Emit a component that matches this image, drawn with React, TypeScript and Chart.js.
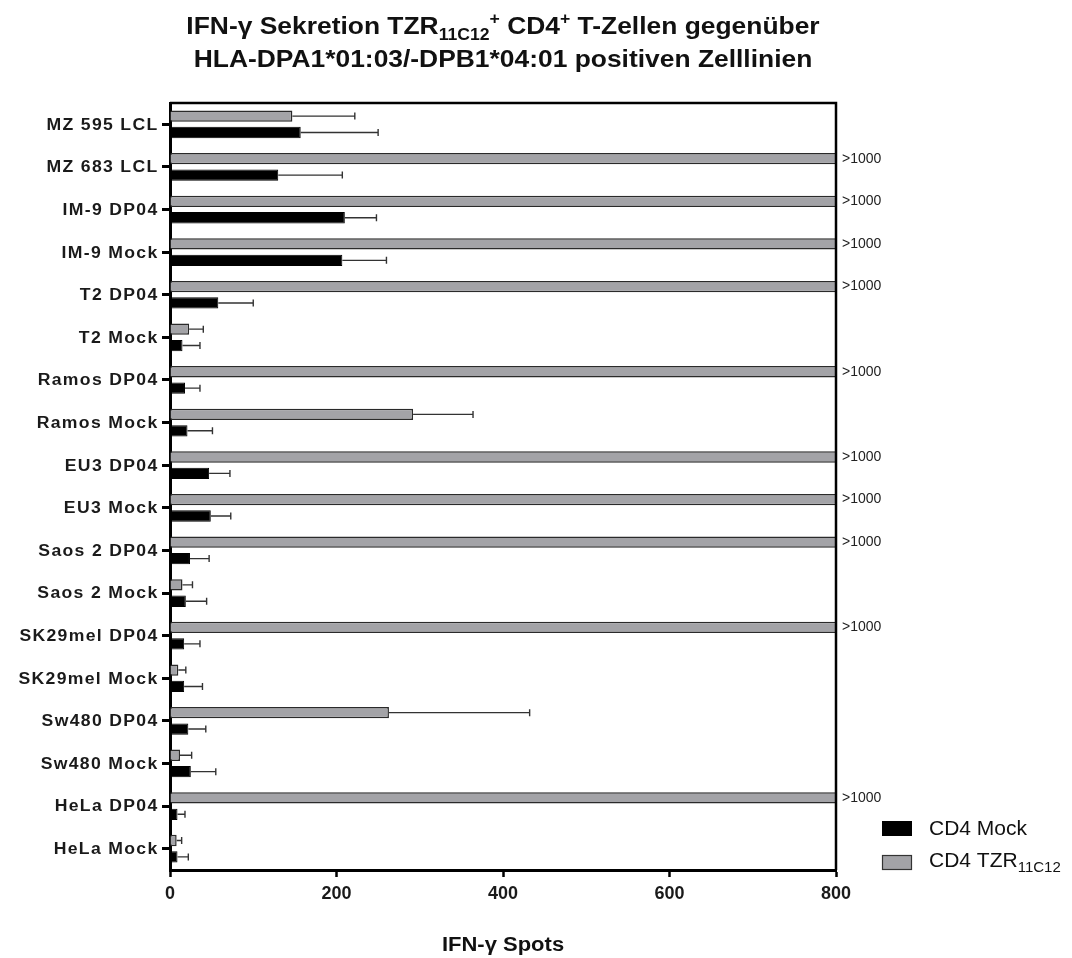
import React, { useEffect, useRef } from 'react';
import { Chart, registerables } from 'chart.js';

Chart.register(...registerables);

// ---- data -------------------------------------------------------------
const cellLines = [
  'MZ 595 LCL', 'MZ 683 LCL', 'IM-9 DP04', 'IM-9 Mock', 'T2 DP04', 'T2 Mock',
  'Ramos DP04', 'Ramos Mock', 'EU3 DP04', 'EU3 Mock', 'Saos 2 DP04', 'Saos 2 Mock',
  'SK29mel DP04', 'SK29mel Mock', 'Sw480 DP04', 'Sw480 Mock', 'HeLa DP04', 'HeLa Mock',
];

// CD4 TZR11C12 effector cells; 1000 marks wells above the counting limit (">1000")
const tzrSpots = [147, 1000, 1000, 1000, 1000, 23, 1000, 292, 1000, 1000, 1000, 15, 1000, 10, 263, 12, 1000, 8];
const tzrSD = [75, 0, 0, 0, 0, 17, 0, 72, 0, 0, 0, 12, 0, 9, 169, 14, 0, 6];

// CD4 Mock effector cells
const mockSpots = [157, 130, 210, 207, 58, 15, 18, 21, 47, 49, 24, 19, 17, 17, 22, 25, 9, 9];
const mockSD = [93, 77, 38, 53, 42, 21, 18, 30, 25, 24, 23, 25, 19, 22, 21, 30, 9, 13];

const xTickValues = [0, 200, 400, 600, 800];
const overLimit = 1000;
const overLimitLabel = '>1000';

// ---- layout / style ---------------------------------------------------
const W = 1072;
const H = 958;
const FONT = '"Liberation Sans", Arial, Helvetica, sans-serif';
const PLOT = { left: 170, right: 836, top: 103, bottom: 870 };
const GREY = '#a3a3a7';
const STRETCH = 1.1;

type Run = { t: string; size: number; dy?: number; weight?: string };

function drawRuns(
  ctx: CanvasRenderingContext2D,
  runs: Run[],
  x: number,
  y: number,
  align: 'center' | 'left',
  sx = 1,
) {
  let total = 0;
  const widths = runs.map((r) => {
    ctx.font = `${r.weight || 'normal'} ${r.size}px ${FONT}`;
    const w = ctx.measureText(r.t).width;
    total += w;
    return w;
  });
  ctx.save();
  ctx.translate(x, y);
  ctx.scale(sx, 1);
  let cx = align === 'center' ? -total / 2 : 0;
  ctx.textAlign = 'left';
  ctx.textBaseline = 'alphabetic';
  runs.forEach((r, i) => {
    ctx.font = `${r.weight || 'normal'} ${r.size}px ${FONT}`;
    ctx.fillText(r.t, cx, r.dy || 0);
    cx += widths[i];
  });
  ctx.restore();
}

const errorBars = {
  id: 'errorBars',
  afterDatasetsDraw(chart: any) {
    const ctx = chart.ctx;
    const xScale = chart.scales.x;
    ctx.save();
    chart.data.datasets.forEach((ds: any, di: number) => {
      const meta = chart.getDatasetMeta(di);
      meta.data.forEach((el: any, i: number) => {
        const v = ds.data[i];
        const e = ds.errors[i];
        if (!e || v >= xScale.max) return;
        const x0 = el.x;
        const x1 = xScale.getPixelForValue(v + e);
        ctx.strokeStyle = '#333';
        ctx.lineWidth = 1.4;
        ctx.beginPath();
        ctx.moveTo(x0, el.y);
        ctx.lineTo(x1, el.y);
        ctx.moveTo(x1, el.y - 3.5);
        ctx.lineTo(x1, el.y + 3.5);
        ctx.stroke();
      });
    });
    ctx.restore();
  },
};

const decorations = {
  id: 'decorations',
  afterDraw(chart: any) {
    const ctx = chart.ctx as CanvasRenderingContext2D;
    const area = chart.chartArea;
    const yScale = chart.scales.y;
    const midX = (area.left + area.right) / 2;
    ctx.save();

    // top and right frame
    ctx.strokeStyle = '#000';
    ctx.lineWidth = 2.5;
    ctx.beginPath();
    ctx.moveTo(area.left, area.top);
    ctx.lineTo(area.right, area.top);
    ctx.lineTo(area.right, area.bottom);
    ctx.stroke();

    // category labels (right-aligned, slightly tracked)
    ctx.fillStyle = '#1a1a1a';
    ctx.font = `bold 16px ${FONT}`;
    ctx.textAlign = 'right';
    ctx.textBaseline = 'middle';
    (ctx as any).letterSpacing = '1.2px';
    cellLines.forEach((lab, i) => {
      ctx.save();
      ctx.translate(158.5, yScale.getPixelForValue(i) + 1);
      ctx.scale(STRETCH, 1);
      ctx.fillText(lab, 0, 0);
      ctx.restore();
    });
    (ctx as any).letterSpacing = '0px';

    // ">1000" marks beside bars above the counting limit
    const meta = chart.getDatasetMeta(0);
    ctx.font = `14px ${FONT}`;
    ctx.textAlign = 'left';
    ctx.fillStyle = '#222';
    meta.data.forEach((el: any, i: number) => {
      if (tzrSpots[i] >= overLimit) ctx.fillText(overLimitLabel, area.right + 6, el.y);
    });

    // title
    ctx.fillStyle = '#111';
    drawRuns(ctx, [
      { t: 'IFN-γ Sekretion TZR', size: 24, weight: 'bold' },
      { t: '11C12', size: 16, dy: 6, weight: 'bold' },
      { t: '+', size: 16, dy: -10, weight: 'bold' },
      { t: ' CD4', size: 24, weight: 'bold' },
      { t: '+', size: 16, dy: -10, weight: 'bold' },
      { t: ' T-Zellen gegenüber', size: 24, weight: 'bold' },
    ], midX, 34, 'center', STRETCH);
    drawRuns(ctx, [
      { t: 'HLA-DPA1*01:03/-DPB1*04:01 positiven Zelllinien', size: 24, weight: 'bold' },
    ], midX, 67, 'center', STRETCH);

    // x axis title
    drawRuns(ctx, [{ t: 'IFN-γ Spots', size: 20, weight: 'bold' }], midX, 951, 'center', STRETCH);

    // legend
    ctx.fillStyle = '#000';
    ctx.fillRect(882, 821, 30, 15);
    ctx.fillStyle = GREY;
    ctx.fillRect(882, 855, 30, 15);
    ctx.strokeStyle = '#333';
    ctx.lineWidth = 1.2;
    ctx.strokeRect(882.5, 855.5, 29, 14);
    ctx.fillStyle = '#111';
    drawRuns(ctx, [{ t: 'CD4 Mock', size: 21 }], 929, 835, 'left');
    drawRuns(ctx, [{ t: 'CD4 TZR', size: 21 }, { t: '11C12', size: 15, dy: 5 }], 929, 867, 'left');

    ctx.restore();
  },
};

export default function App() {
  const ref = useRef<HTMLCanvasElement | null>(null);

  useEffect(() => {
    if (!ref.current) return;
    const chart = new Chart(ref.current, {
      type: 'bar',
      data: {
        labels: cellLines,
        datasets: [
          {
            label: 'CD4 TZR11C12',
            data: tzrSpots,
            errors: tzrSD,
            backgroundColor: GREY,
            borderColor: '#2a2a2a',
            borderWidth: 1.5,
            clip: 0,
            categoryPercentage: 0.77,
            barPercentage: 0.69,
          } as any,
          {
            label: 'CD4 Mock',
            data: mockSpots,
            errors: mockSD,
            backgroundColor: '#000',
            borderColor: '#000',
            borderWidth: 1,
            clip: 0,
            categoryPercentage: 0.77,
            barPercentage: 0.69,
          } as any,
        ],
      },
      options: {
        indexAxis: 'y',
        responsive: false,
        animation: false,
        devicePixelRatio: 1,
        layout: { padding: { top: PLOT.top, right: W - PLOT.right, left: 0, bottom: 0 } },
        plugins: {
          legend: { display: false },
          title: { display: false },
          tooltip: { enabled: false },
        },
        scales: {
          x: {
            type: 'linear',
            min: 0,
            max: 800,
            afterBuildTicks: (s: any) => {
              s.ticks = xTickValues.map((v) => ({ value: v }));
            },
            afterFit: (s: any) => {
              s.height = H - PLOT.bottom;
            },
            grid: { drawOnChartArea: false, drawTicks: true, tickLength: 7, tickWidth: 2.5, tickColor: '#000' },
            border: { display: true, width: 3, color: '#000' },
            ticks: { font: { family: FONT, size: 18, weight: 'bold' }, color: '#1a1a1a', padding: 6 },
          },
          y: {
            type: 'category',
            afterFit: (s: any) => {
              s.width = PLOT.left;
            },
            grid: { drawOnChartArea: false, offset: false, drawTicks: true, tickLength: 8, tickWidth: 3, tickColor: '#000' },
            border: { display: true, width: 3, color: '#000' },
            ticks: { autoSkip: false, callback: () => '' },
          },
        },
      } as any,
      plugins: [errorBars, decorations],
    });
    return () => chart.destroy();
  }, []);

  return (
    <div style={{ position: 'absolute', left: 0, top: 0, width: W, height: H, background: '#fff' }}>
      <canvas ref={ref} width={W} height={H} style={{ display: 'block', width: W, height: H }} />
    </div>
  );
}
